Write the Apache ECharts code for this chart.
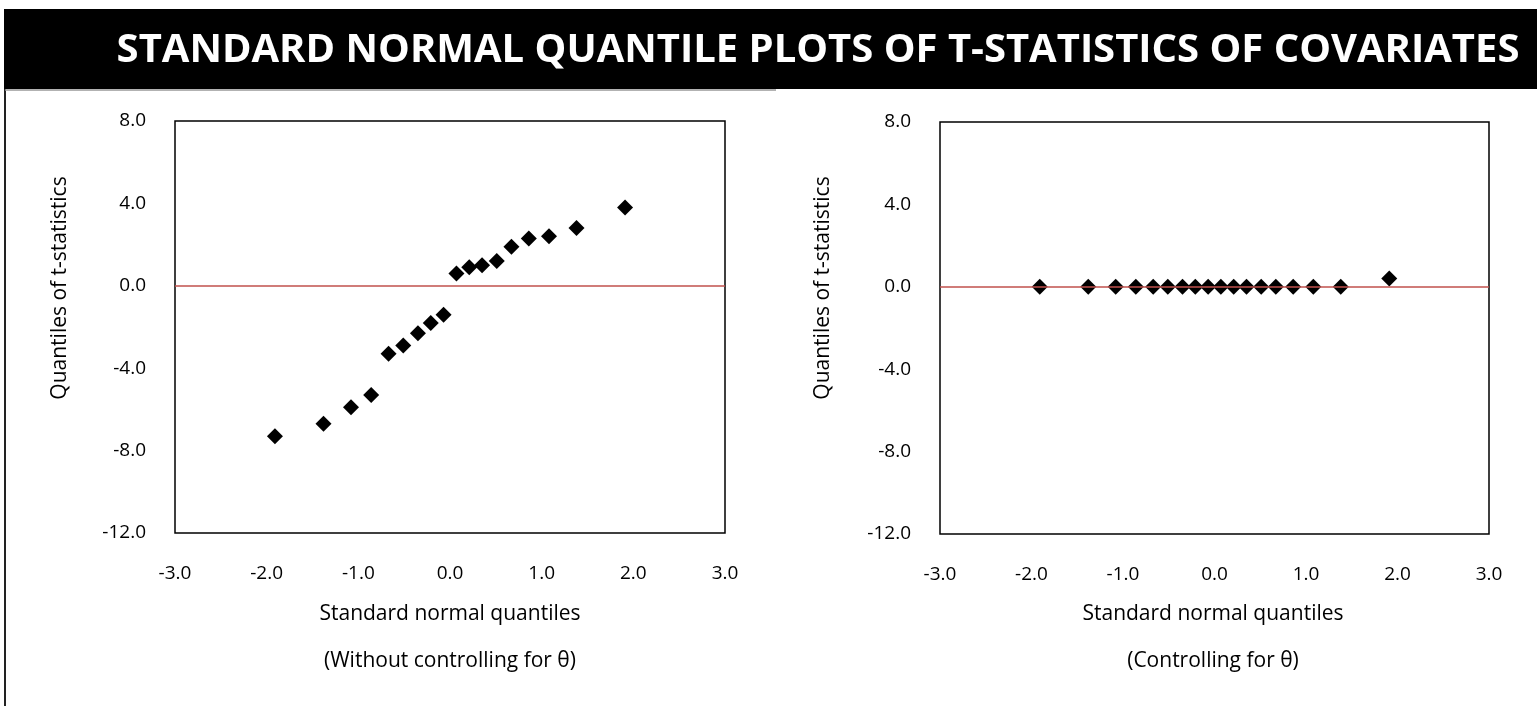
<!DOCTYPE html>
<html lang="en">
<head>
    <meta charset="UTF-8">
    <title>Standard normal quantile plots</title>
    <script type="text/javascript" src="https://cdn.jsdelivr.net/npm/echarts@6/dist/echarts.min.js"></script>
    <style>
        html, body { margin: 0; padding: 0; background: #fff; }
        #chart { width: 1537px; height: 706px; }
    </style>
</head>
<body>
    <div id="chart"></div>
    <script>
        // normal quantiles of the 18 covariates (same for both panels)
        var normalQuantiles = [-1.91, -1.38, -1.08, -0.86, -0.67, -0.51, -0.35, -0.21, -0.07,
                               0.07, 0.21, 0.35, 0.51, 0.67, 0.86, 1.08, 1.38, 1.91];
        // t-statistics, without controlling for theta
        var tStatsRaw = [-7.3, -6.7, -5.9, -5.3, -3.3, -2.9, -2.3, -1.8, -1.4,
                         0.6, 0.9, 1.0, 1.2, 1.9, 2.3, 2.4, 2.8, 3.8];
        // t-statistics, controlling for theta
        var tStatsCtrl = [0.0, 0.0, 0.0, 0.0, 0.0, 0.0, 0.0, 0.0, 0.0,
                          0.0, 0.0, 0.0, 0.0, 0.0, 0.0, 0.0, 0.0, 0.4];
        var xTicks = [-3, -2, -1, 0, 1, 2, 3];
        var yTicks = [-12, -8, -4, 0, 4, 8];

        var FONT = 'Open Sans';

        function pairs(xs, ys) {
            var out = [];
            for (var i = 0; i < xs.length; i++) out.push([xs[i], ys[i]]);
            return out;
        }

        function xAxisCfg(idx) {
            return {
                gridIndex: idx, type: 'value',
                min: xTicks[0], max: xTicks[xTicks.length - 1], interval: 1,
                axisLine: { show: false }, axisTick: { show: false }, splitLine: { show: false },
                axisLabel: { margin: 31, fontFamily: FONT, fontSize: 19, color: '#000',
                    formatter: function (v) { return v.toFixed(1); } }
            };
        }
        function yAxisCfg(idx) {
            return {
                gridIndex: idx, type: 'value',
                min: yTicks[0], max: yTicks[yTicks.length - 1], interval: 4,
                axisLine: { show: false }, axisTick: { show: false }, splitLine: { show: false },
                axisLabel: { margin: 29, fontFamily: FONT, fontSize: 19, color: '#000',
                    formatter: function (v) { return v.toFixed(1); } }
            };
        }
        function scatter(idx, data) {
            return {
                type: 'scatter', xAxisIndex: idx, yAxisIndex: idx,
                symbol: 'diamond', symbolSize: 16,
                itemStyle: { color: '#000', opacity: 1 },
                data: pairs(normalQuantiles, data),
                markLine: {
                    silent: true, symbol: 'none', label: { show: false },
                    lineStyle: { color: '#c0504d', width: 1.5, type: 'solid', opacity: 1 },
                    data: [{ yAxis: 0 }]
                },
                z: 3
            };
        }

        var chart = echarts.init(document.getElementById('chart'));
        var option = {
            backgroundColor: '#fff',
            animation: false,
            title: {
                text: 'STANDARD NORMAL QUANTILE PLOTS OF T-STATISTICS OF COVARIATES',
                left: 813, top: 26, textAlign: 'center',
                textStyle: { color: '#fff', fontFamily: FONT, fontWeight: 'bold', fontSize: 40 }
            },
            grid: [
                { left: 175, top: 121, width: 550, height: 412, show: true, borderColor: '#000', borderWidth: 1.5 },
                { left: 940, top: 122, width: 549, height: 412, show: true, borderColor: '#000', borderWidth: 1.5 }
            ],
            xAxis: [xAxisCfg(0), xAxisCfg(1)],
            yAxis: [yAxisCfg(0), yAxisCfg(1)],
            series: [scatter(0, tStatsRaw), scatter(1, tStatsCtrl)],
            graphic: [
                // left panel frame (only left + top edges visible)
                { type: 'line', z: -1, shape: { x1: 5, y1: 89, x2: 5, y2: 706 }, style: { stroke: '#222', lineWidth: 2 } },
                { type: 'line', z: -1, shape: { x1: 5, y1: 90, x2: 776, y2: 90 }, style: { stroke: '#999', lineWidth: 1.5 } },
                // black title band
                { type: 'rect', z: -1, shape: { x: 4, y: 9, width: 1533, height: 80 }, style: { fill: '#000' } },
                // axis titles
                { type: 'text', x: 60, y: 288, rotation: Math.PI / 2,
                  style: { text: 'Quantiles of t-statistics', fontFamily: FONT, fontSize: 21, fill: '#000', align: 'center', verticalAlign: 'middle' } },
                { type: 'text', x: 823, y: 288, rotation: Math.PI / 2,
                  style: { text: 'Quantiles of t-statistics', fontFamily: FONT, fontSize: 21, fill: '#000', align: 'center', verticalAlign: 'middle' } },
                { type: 'text', x: 450, y: 638,
                  style: { text: 'Standard normal quantiles\n(Without controlling for θ)', fontFamily: FONT, fontSize: 21, lineHeight: 47, fill: '#000', align: 'center', verticalAlign: 'middle' } },
                { type: 'text', x: 1213, y: 638,
                  style: { text: 'Standard normal quantiles\n(Controlling for θ)', fontFamily: FONT, fontSize: 21, lineHeight: 47, fill: '#000', align: 'center', verticalAlign: 'middle' } }
            ]
        };
        chart.setOption(option);
    </script>
</body>
</html>
